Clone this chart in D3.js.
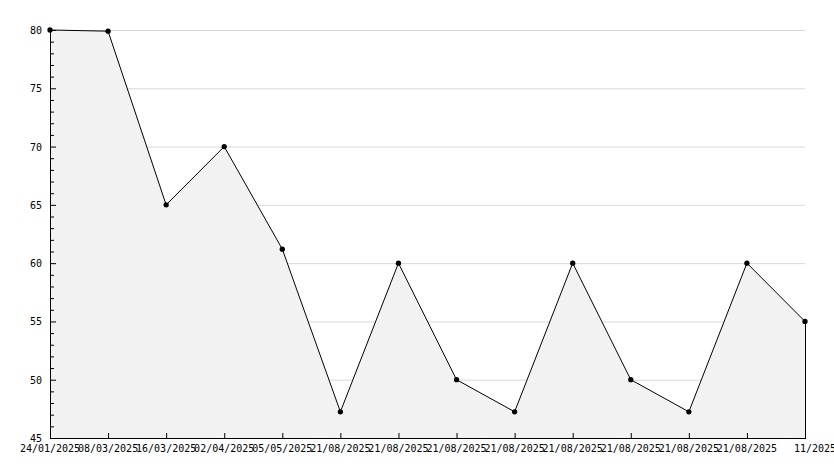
<!DOCTYPE html>
<html>
<head>
<meta charset="utf-8">
<script src="https://cdn.jsdelivr.net/npm/d3@7"></script>
<style>
  body { margin: 0; background: #fff; }
  text { font-family: "DejaVu Sans Mono", monospace; font-size: 10px; fill: #000; }
</style>
</head>
<body>
<svg id="chart" width="834" height="468"></svg>
<script>
const labels = ["24/01/2025", "08/03/2025", "16/03/2025", "02/04/2025", "05/05/2025",
  "21/08/2025", "21/08/2025", "21/08/2025", "21/08/2025", "21/08/2025",
  "21/08/2025", "21/08/2025", "21/08/2025", "11/2025"];
const values = [80, 79.9, 65, 70, 61.2, 47.25, 60, 50, 47.25, 60, 50, 47.25, 60, 55];
const yTicks = [45, 50, 55, 60, 65, 70, 75, 80];

const svg = d3.select("#chart");
const mLeft = 50, mRight = 805, mTop = 30, mBottom = 438;

const x = d3.scaleLinear().domain([0, labels.length - 1]).range([mLeft, mRight]);
const y = d3.scaleLinear().domain([45, 80]).range([mBottom, mTop]);

// grid
svg.append("g").selectAll("line").data(yTicks.slice(1)).join("line")
  .attr("x1", mLeft).attr("x2", mRight)
  .attr("y1", d => y(d) + 0.5).attr("y2", d => y(d) + 0.5)
  .attr("stroke", "#d8d8d8");

// area
const idx = d3.range(values.length);
svg.append("path").datum(idx)
  .attr("fill", "#f2f2f2")
  .attr("d", d3.area().x(i => x(i)).y0(mBottom).y1(i => y(values[i])));

// line
svg.append("path").datum(idx)
  .attr("fill", "none").attr("stroke", "#000").attr("stroke-width", 1)
  .attr("d", d3.line().x(i => x(i)).y(i => y(values[i])));

// right border
svg.append("line").attr("x1", mRight + 0.5).attr("x2", mRight + 0.5)
  .attr("y1", y(values[values.length - 1])).attr("y2", mBottom).attr("stroke", "#000");

// y axis with minor ticks
const yAxis = svg.append("g");
yAxis.append("line").attr("x1", mLeft + 0.5).attr("x2", mLeft + 0.5)
  .attr("y1", mTop).attr("y2", mBottom + 0.5).attr("stroke", "#000");
yAxis.selectAll("line.minor").data(d3.range(45, 81)).join("line")
  .attr("class", "minor")
  .attr("x1", mLeft).attr("x2", d => d % 5 === 0 ? mLeft + 6 : mLeft + 4)
  .attr("y1", d => y(d) + 0.5).attr("y2", d => y(d) + 0.5)
  .attr("stroke", "#000");
yAxis.selectAll("text").data(yTicks).join("text")
  .attr("x", mLeft - 8).attr("y", d => y(d) + 4)
  .attr("text-anchor", "end").text(d => d);

// x axis
const xAxis = svg.append("g");
xAxis.append("line").attr("x1", mLeft).attr("x2", mRight + 1)
  .attr("y1", mBottom + 0.5).attr("y2", mBottom + 0.5).attr("stroke", "#000");
xAxis.selectAll("line.tick").data(idx).join("line")
  .attr("class", "tick")
  .attr("x1", i => x(i) + 0.5).attr("x2", i => x(i) + 0.5)
  .attr("y1", mBottom - 5).attr("y2", mBottom).attr("stroke", "#000");
xAxis.selectAll("text").data(idx).join("text")
  .attr("x", i => x(i) + (i === labels.length - 1 ? 10 : 0)).attr("y", mBottom + 14)
  .attr("text-anchor", "middle").text(i => labels[i]);

// markers
svg.append("g").selectAll("path").data(idx).join("path")
  .attr("transform", i => `translate(${x(i)},${y(values[i])})`)
  .attr("d", d3.symbol(d3.symbolCircle, 22))
  .attr("fill", "#000");
</script>
</body>
</html>
